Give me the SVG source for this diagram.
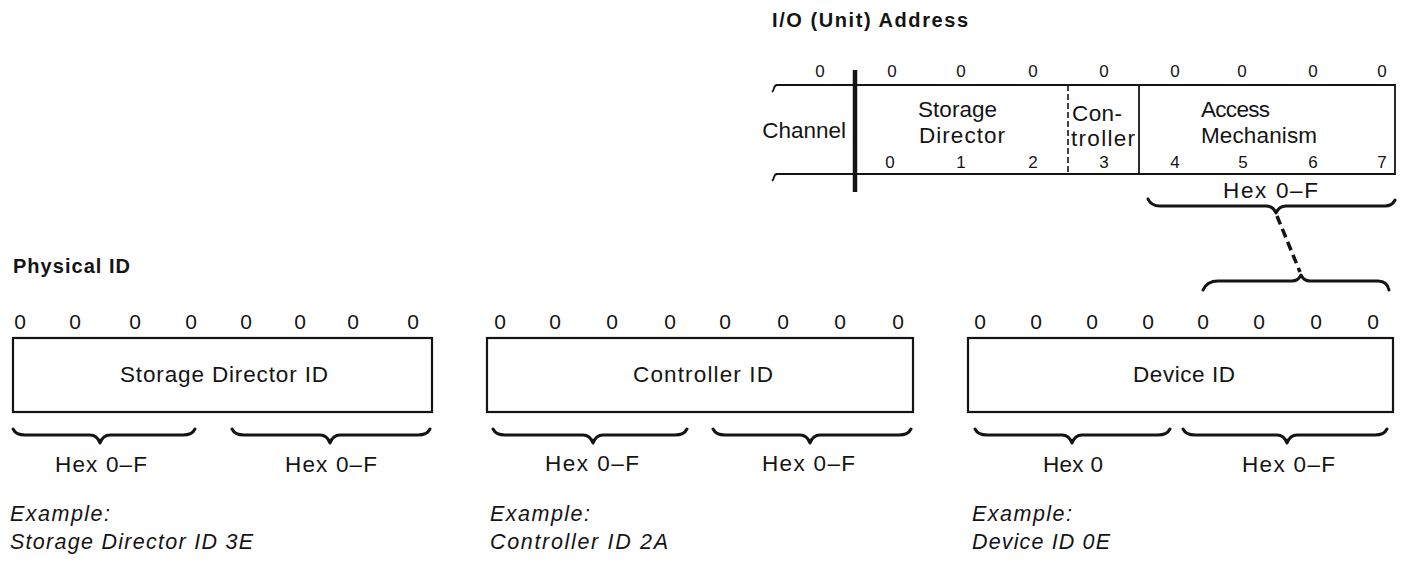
<svg xmlns="http://www.w3.org/2000/svg" width="1402" height="561" viewBox="0 0 1402 561">
  <defs>
    <style>
      .t { font-family: "Liberation Sans", Arial, sans-serif; fill: #141414; }
      .title { font-size: 20px; font-weight: bold; }
      .lbl { font-size: 22.5px; }
      .bit { font-family: "Liberation Sans Narrow", "Liberation Sans", Arial, sans-serif; font-size: 17px; text-anchor: middle; }
      .zero { font-size: 21px; text-anchor: middle; }
      .ex { font-size: 21.5px; font-style: italic; }
      .box { fill: none; stroke: #141414; stroke-width: 2.2; }
      .rule { fill: none; stroke: #141414; stroke-width: 1.8; }
      .brace { fill: none; stroke: #141414; stroke-width: 3; stroke-linecap: round; stroke-linejoin: round; }
    </style>
  </defs>
  <rect width="1402" height="561" fill="#ffffff"/>

  <!-- I/O (Unit) Address register -->
  <g id="io-address">
    <text class="t title" x="772" y="27" textLength="196" lengthAdjust="spacing">I/O (Unit) Address</text>
    <!-- bit values -->
    <g class="t bit">
      <text x="820" y="77">0</text>
      <text x="892" y="77">0</text>
      <text x="961" y="77">0</text>
      <text x="1033" y="77">0</text>
      <text x="1104" y="77">0</text>
      <text x="1175" y="77">0</text>
      <text x="1242" y="77">0</text>
      <text x="1313" y="77">0</text>
      <text x="1382" y="77">0</text>
    </g>
    <!-- frame with broken left end -->
    <path class="rule" d="M776 85 H1395 V174 H776"/>
    <path class="rule" d="M772 92 C775 90 773 85 777 85"/>
    <path class="rule" d="M772 181 C775 179 773 174 777 174"/>
    <line x1="855" y1="70" x2="855" y2="192" stroke="#141414" stroke-width="4.5"/>
    <line x1="1068" y1="85" x2="1068" y2="174" stroke="#141414" stroke-width="1.6" stroke-dasharray="6 3"/>
    <line x1="1139" y1="85" x2="1139" y2="174" stroke="#141414" stroke-width="1.8"/>
    <!-- field names -->
    <text class="t lbl" x="846" y="138" text-anchor="end">Channel</text>
    <text class="t lbl" x="918" y="117" textLength="79" lengthAdjust="spacing">Storage</text>
    <text class="t lbl" x="919" y="143" textLength="86" lengthAdjust="spacing">Director</text>
    <text class="t lbl" x="1072" y="121" textLength="50" lengthAdjust="spacing">Con-</text>
    <text class="t lbl" x="1071" y="146" textLength="64" lengthAdjust="spacing">troller</text>
    <text class="t lbl" x="1201" y="117" textLength="69" lengthAdjust="spacing">Access</text>
    <text class="t lbl" x="1201" y="143" textLength="116" lengthAdjust="spacing">Mechanism</text>
    <!-- bit numbers -->
    <g class="t bit">
      <text x="890" y="168">0</text>
      <text x="961" y="168">1</text>
      <text x="1033" y="168">2</text>
      <text x="1104" y="168">3</text>
      <text x="1175" y="168">4</text>
      <text x="1243" y="168">5</text>
      <text x="1313" y="168">6</text>
      <text x="1382" y="168">7</text>
    </g>
    <text class="t lbl" x="1223" y="198" textLength="95" lengthAdjust="spacing">Hex 0–F</text>
    <path class="brace" stroke-width="2.5" d="M1148 199 Q1151 206 1160 206 L1266 206 Q1273 206 1276 213 Q1279 206 1286 206 L1385 206 Q1392 206 1395 200"/>
  </g>

  <text class="t title" x="13" y="273" textLength="117" lengthAdjust="spacing">Physical ID</text>

  <!-- Storage Director ID byte -->
  <g id="storage-director-id">
    <g class="t zero">
      <text x="20" y="329">0</text>
      <text x="75" y="329">0</text>
      <text x="135" y="329">0</text>
      <text x="191" y="329">0</text>
      <text x="246" y="329">0</text>
      <text x="300" y="329">0</text>
      <text x="353" y="329">0</text>
      <text x="413" y="329">0</text>
    </g>
    <rect class="box" x="13" y="338" width="419" height="74"/>
    <text class="t lbl" x="120" y="382" textLength="208" lengthAdjust="spacing">Storage Director ID</text>
    <path class="brace" d="M13 429 Q16 435 25 435 L90 435 Q97 435 100 443 Q103 435 110 435 L183 435 Q192 435 195 429"/>
    <path class="brace" d="M232 429 Q235 435 244 435 L320 435 Q327 435 330 443 Q333 435 340 435 L418 435 Q427 435 430 429"/>
    <text class="t lbl" x="55" y="472" textLength="92" lengthAdjust="spacing">Hex 0–F</text>
    <text class="t lbl" x="285" y="472" textLength="92" lengthAdjust="spacing">Hex 0–F</text>
    <text class="t ex" x="10" y="521" textLength="100" lengthAdjust="spacing">Example:</text>
    <text class="t ex" x="10" y="549" textLength="243" lengthAdjust="spacing">Storage Director ID 3E</text>
  </g>

  <!-- Controller ID byte -->
  <g id="controller-id">
    <g class="t zero">
      <text x="500" y="329">0</text>
      <text x="555" y="329">0</text>
      <text x="612" y="329">0</text>
      <text x="670" y="329">0</text>
      <text x="725" y="329">0</text>
      <text x="783" y="329">0</text>
      <text x="840" y="329">0</text>
      <text x="898" y="329">0</text>
    </g>
    <rect class="box" x="487" y="338" width="426" height="74"/>
    <text class="t lbl" x="633" y="382" textLength="140" lengthAdjust="spacing">Controller ID</text>
    <path class="brace" d="M493 429 Q496 435 505 435 L583 435 Q590 435 593 443 Q596 435 603 435 L675 435 Q684 435 687 429"/>
    <path class="brace" d="M713 429 Q716 435 725 435 L800 435 Q807 435 810 443 Q813 435 820 435 L899 435 Q908 435 911 429"/>
    <text class="t lbl" x="545" y="471" textLength="94" lengthAdjust="spacing">Hex 0–F</text>
    <text class="t lbl" x="762" y="471" textLength="93" lengthAdjust="spacing">Hex 0–F</text>
    <text class="t ex" x="490" y="521" textLength="100" lengthAdjust="spacing">Example:</text>
    <text class="t ex" x="490" y="549" textLength="178" lengthAdjust="spacing">Controller ID 2A</text>
  </g>

  <!-- Device ID byte -->
  <g id="device-id">
    <g class="t zero">
      <text x="980" y="329">0</text>
      <text x="1036" y="329">0</text>
      <text x="1092" y="329">0</text>
      <text x="1148" y="329">0</text>
      <text x="1203" y="329">0</text>
      <text x="1259" y="329">0</text>
      <text x="1316" y="329">0</text>
      <text x="1373" y="329">0</text>
    </g>
    <rect class="box" x="968" y="338" width="425" height="74"/>
    <text class="t lbl" x="1133" y="382" textLength="102" lengthAdjust="spacing">Device ID</text>
    <path class="brace" d="M975 429 Q978 435 987 435 L1062 435 Q1069 435 1072 443 Q1075 435 1082 435 L1158 435 Q1167 435 1170 429"/>
    <path class="brace" d="M1183 429 Q1186 435 1195 435 L1277 435 Q1284 435 1287 443 Q1290 435 1297 435 L1375 435 Q1384 435 1387 429"/>
    <text class="t lbl" x="1043" y="472" textLength="60" lengthAdjust="spacing">Hex 0</text>
    <text class="t lbl" x="1242" y="472" textLength="93" lengthAdjust="spacing">Hex 0–F</text>
    <text class="t ex" x="972" y="521" textLength="100" lengthAdjust="spacing">Example:</text>
    <text class="t ex" x="972" y="549" textLength="138" lengthAdjust="spacing">Device ID 0E</text>
  </g>

  <!-- link from the access-mechanism bits to the low half of the device byte -->
  <g id="connectors">
    <line x1="1277" y1="216" x2="1300" y2="272" stroke="#141414" stroke-width="3.5" stroke-dasharray="9 5"/>
    <path class="brace" stroke-width="4" d="M1203 290 Q1207 281 1218 281 L1292 281 Q1298 281 1301 275 Q1304 281 1310 281 L1378 281 Q1387 281 1389 290"/>
  </g>
</svg>
